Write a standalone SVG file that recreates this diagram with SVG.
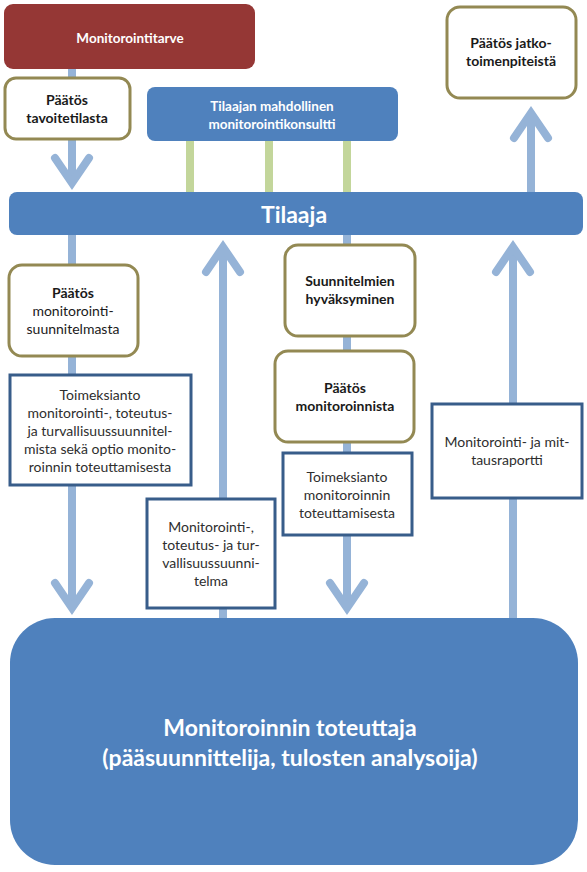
<svg xmlns="http://www.w3.org/2000/svg" width="587" height="872" viewBox="0 0 587 872">
<style>
text{font-family:Lato,"Open Sans","Liberation Sans",sans-serif;text-anchor:middle}
.w{fill:#ffffff;font-weight:bold;font-size:13.5px}
.b{fill:#1a1a1a;font-weight:bold;font-size:14px}
.m{fill:#1a1a1a;font-size:14px}
.r{fill:#2e2e2e;font-size:14px}
.big{fill:#ffffff;font-weight:bold;font-size:23px}
.dec{fill:#ffffff;stroke:#938953;stroke-width:3}
.doc{fill:#ffffff;stroke:#385D8A;stroke-width:3}
.blue{fill:#4F81BD}
.sh{stroke:#95B3D7;stroke-width:8;fill:none}
.hd{stroke:#95B3D7;stroke-width:8;fill:none;stroke-linecap:round;stroke-linejoin:miter}
.gr{fill:#C3D69B}
</style>
<g id="connectors">
<rect class="gr" x="186" y="141" width="8" height="52"/>
<rect class="gr" x="265" y="141" width="8" height="52"/>
<rect class="gr" x="343" y="141" width="8" height="52"/>
<line class="sh" x1="72" y1="69" x2="72" y2="184"/>
<path class="hd" d="M55,158 L72,183 L89,158"/>
<line class="sh" x1="72" y1="235" x2="72" y2="609"/>
<path class="hd" d="M55,583 L72,608 L89,583"/>
<line class="sh" x1="223" y1="620" x2="223" y2="246"/>
<path class="hd" d="M206,272 L223,247 L240,272"/>
<line class="sh" x1="347" y1="235" x2="347" y2="609"/>
<path class="hd" d="M330,583 L347,608 L364,583"/>
<line class="sh" x1="513" y1="620" x2="513" y2="246"/>
<path class="hd" d="M496,272 L513,247 L530,272"/>
<line class="sh" x1="531" y1="194" x2="531" y2="112"/>
<path class="hd" d="M514,138 L531,113 L548,138"/>
</g>
<g id="n-monitorointitarve">
<rect x="4" y="4" width="251" height="65" rx="9" fill="#953735"/>
<text class="w" x="130" y="43">Monitorointitarve</text>
</g>
<g id="n-paatos-tavoitetilasta">
<rect class="dec" x="5" y="78" width="125" height="61" rx="11"/>
<text class="b" x="67" y="105">Päätös</text>
<text class="b" x="67" y="123">tavoitetilasta</text>
</g>
<g id="n-konsultti">
<rect class="blue" x="147" y="87" width="251" height="54" rx="8"/>
<text class="w" x="272" y="111">Tilaajan mahdollinen</text>
<text class="w" x="272" y="129">monitorointikonsultti</text>
</g>
<g id="n-jatkotoimenpiteet">
<rect class="dec" x="447" y="7" width="129" height="91" rx="13"/>
<text class="b" x="511" y="48">Päätös jatko-</text>
<text class="b" x="511" y="66">toimenpiteistä</text>
</g>
<g id="n-tilaaja">
<rect class="blue" x="9" y="192" width="574" height="43" rx="8"/>
<text class="big" x="294" y="223">Tilaaja</text>
</g>
<g id="n-paatos-suunnitelmasta">
<rect class="dec" x="9" y="265" width="129" height="91" rx="13"/>
<text class="b" x="73" y="298">Päätös</text>
<text class="m" x="73" y="316">monitorointi-</text>
<text class="m" x="73" y="334">suunnitelmasta</text>
</g>
<g id="n-toimeksianto-suunnitelmat">
<rect class="doc" x="10" y="375" width="181" height="110"/>
<text class="r" x="100" y="400">Toimeksianto</text>
<text class="r" x="100" y="418">monitorointi-, toteutus-</text>
<text class="r" x="100" y="436">ja turvallisuussuunnitel-</text>
<text class="r" x="100" y="454">mista sekä optio monito-</text>
<text class="r" x="100" y="472">roinnin toteuttamisesta</text>
</g>
<g id="n-suunnitelma-doc">
<rect class="doc" x="147" y="499" width="128" height="109"/>
<text class="r" x="211" y="532">Monitorointi-,</text>
<text class="r" x="211" y="550">toteutus- ja tur-</text>
<text class="r" x="211" y="568">vallisuussuunni-</text>
<text class="r" x="211" y="586">telma</text>
</g>
<g id="n-hyvaksyminen">
<rect class="dec" x="285" y="245" width="130" height="91" rx="13"/>
<text class="b" x="350" y="286">Suunnitelmien</text>
<text class="b" x="350" y="304">hyväksyminen</text>
</g>
<g id="n-paatos-monitoroinnista">
<rect class="dec" x="275" y="351" width="139" height="91" rx="13"/>
<text class="b" x="345" y="393">Päätös</text>
<text class="b" x="345" y="411">monitoroinnista</text>
</g>
<g id="n-toimeksianto-toteutus">
<rect class="doc" x="283" y="453" width="129" height="82"/>
<text class="r" x="347" y="482">Toimeksianto</text>
<text class="r" x="347" y="500">monitoroinnin</text>
<text class="r" x="347" y="518">toteuttamisesta</text>
</g>
<g id="n-raportti">
<rect class="doc" x="432" y="404" width="150" height="94"/>
<text class="r" x="507" y="447">Monitorointi- ja mit-</text>
<text class="r" x="507" y="465">tausraportti</text>
</g>
<g id="n-toteuttaja">
<rect class="blue" x="10" y="618" width="568" height="247" rx="45"/>
<text class="big" x="290" y="736">Monitoroinnin toteuttaja</text>
<text class="big" x="290" y="766">(pääsuunnittelija, tulosten analysoija)</text>
</g>
</svg>
